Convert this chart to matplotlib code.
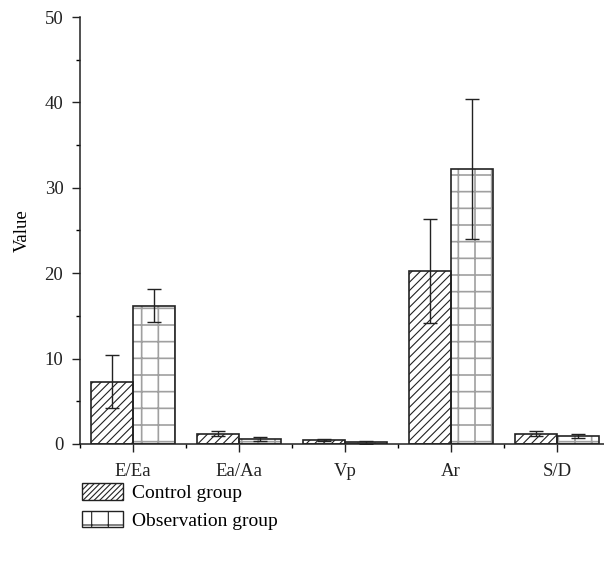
import matplotlib.pyplot as plt
import numpy as np
from matplotlib.patches import Patch
from matplotlib.ticker import MultipleLocator

plt.rcParams['font.family'] = ['Liberation Serif', 'DejaVu Serif']
plt.rcParams['hatch.linewidth'] = 0.8

categories = ["E/Ea", "Ea/Aa", "Vp", "Ar", "S/D"]
control = [7.3, 1.2, 0.5, 20.3, 1.2]
control_err = [3.1, 0.3, 0.1, 6.1, 0.3]
observation = [16.2, 0.6, 0.2, 32.2, 0.9]
observation_err = [1.9, 0.2, 0.15, 8.2, 0.25]

fig = plt.figure(figsize=(6.04, 5.62), dpi=100)
ax = fig.add_axes([80/604, 1-444/562, 530/604, 427/562])

x = np.arange(len(categories))
w = 0.4

# hatch layers (hatch colour follows edgecolor), then black outlines
ax.bar(x - w/2, control, w, facecolor="white",
       edgecolor="#222222", hatch="////", linewidth=0, zorder=2)
with plt.rc_context({'hatch.linewidth': 1.2}):
    ax.bar(x + w/2, observation, w, facecolor="white",
           edgecolor="#a0a0a0", hatch="+", linewidth=0, zorder=2)
ax.bar(x - w/2, control, w, facecolor="none", edgecolor="#222222",
       linewidth=1.2, zorder=3)
ax.bar(x + w/2, observation, w, facecolor="none", edgecolor="#222222",
       linewidth=1.2, zorder=3)

ax.errorbar(x - w/2, control, yerr=control_err, fmt="none", ecolor="#222222",
            elinewidth=1.0, capsize=5, capthick=1.0, zorder=4)
ax.errorbar(x + w/2, observation, yerr=observation_err, fmt="none",
            ecolor="#222222", elinewidth=1.0, capsize=5, capthick=1.0, zorder=4)

ax.set_xlim(-0.5, 4.5)
ax.set_ylim(0, 50)
ax.set_xticks(x)
ax.set_xticklabels(categories)
ax.xaxis.set_minor_locator(MultipleLocator(1, offset=0.5))
ax.yaxis.set_major_locator(MultipleLocator(10))
ax.yaxis.set_minor_locator(MultipleLocator(5))
ax.tick_params(axis="both", which="major", direction="out", length=6,
               width=1, labelsize=13.5, colors="#222222")
ax.tick_params(axis="x", which="major", pad=8)
ax.tick_params(axis="y", which="major", pad=6)
ax.tick_params(axis="both", which="minor", direction="out", length=3, width=1)
ax.spines["top"].set_visible(False)
ax.spines["right"].set_visible(False)
for s in ("left", "bottom"):
    ax.spines[s].set_linewidth(1.1)
    ax.spines[s].set_color("#222222")
ax.set_ylabel("Value", fontsize=13.5, labelpad=10)

handles = [
    Patch(facecolor="white", edgecolor="#222222", hatch="//////", label="Control group"),
    Patch(facecolor="white", edgecolor="#222222", hatch="+", label="Observation group"),
]
fig.legend(handles=handles, loc="upper left", bbox_to_anchor=(0.107, 0.171),
           frameon=False, fontsize=14, handlelength=2.1, handleheight=0.9,
           labelspacing=0.45, handletextpad=0.45)

fig.savefig("out.png", dpi=100)
